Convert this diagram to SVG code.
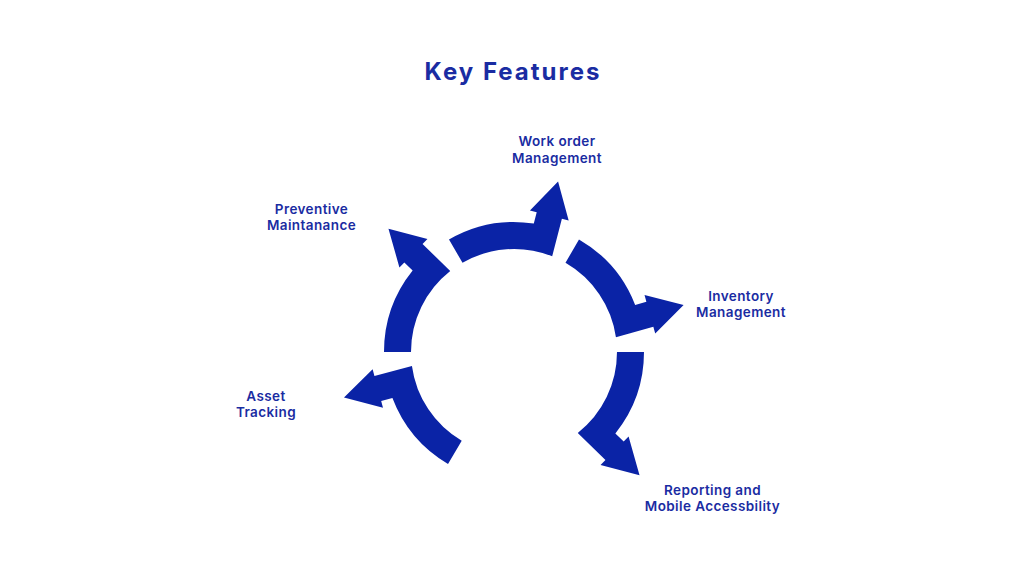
<svg xmlns="http://www.w3.org/2000/svg" xmlns:xlink="http://www.w3.org/1999/xlink" width="1024" height="576" viewBox="0 0 1024 576">
  <style>
    .seg { fill: #0a23a6; }
    .title { font-family: Inter, "Liberation Sans", sans-serif; font-weight: 700; font-size: 24px; letter-spacing: 2px; fill: #1a2ca2; text-anchor: middle; }
    .lbl { font-family: Inter, "Liberation Sans", sans-serif; font-weight: 600; font-size: 13.5px; letter-spacing: 0.4px; fill: #1a2ca2; text-anchor: middle; }
  </style>
  <defs>
    <path id="arrowSeg" d="M92.72,-91.12 A130,130 0 0 1 129.35,-13 L141,-13 L141,-20 L176,0 L141,20 L141,13 L102.18,13 A103,103 0 0 0 73.46,-72.19 Z"/>
  </defs>
  <rect width="1024" height="576" fill="#ffffff"/>
  <text class="title" x="513" y="80">Key Features</text>
  <g id="connectors"></g>
  <g id="preventive">
    <use xlink:href="#arrowSeg" href="#arrowSeg" class="seg" transform="translate(514,352) rotate(-135.5)"/>
    <text class="lbl" x="311.5" y="213.5">Preventive</text>
    <text class="lbl" x="311.5" y="229.5">Maintanance</text>
  </g>
  <g id="workorder">
    <use xlink:href="#arrowSeg" href="#arrowSeg" class="seg" transform="translate(514,352) rotate(-75.5)"/>
    <text class="lbl" x="557" y="146">Work order</text>
    <text class="lbl" x="557" y="162.5">Management</text>
  </g>
  <g id="inventory">
    <use xlink:href="#arrowSeg" href="#arrowSeg" class="seg" transform="translate(514,352) rotate(-15.5)"/>
    <text class="lbl" x="741" y="300.5">Inventory</text>
    <text class="lbl" x="741" y="317">Management</text>
  </g>
  <g id="reporting">
    <use xlink:href="#arrowSeg" href="#arrowSeg" class="seg" transform="translate(514,352) rotate(44.5)"/>
    <text class="lbl" x="712.5" y="494.5">Reporting and</text>
    <text class="lbl" x="712.5" y="511">Mobile Accessbility</text>
  </g>
  <g id="asset">
    <use xlink:href="#arrowSeg" href="#arrowSeg" class="seg" transform="translate(514,352) rotate(165)"/>
    <text class="lbl" x="266" y="401">Asset</text>
    <text class="lbl" x="266" y="417">Tracking</text>
  </g>
</svg>
